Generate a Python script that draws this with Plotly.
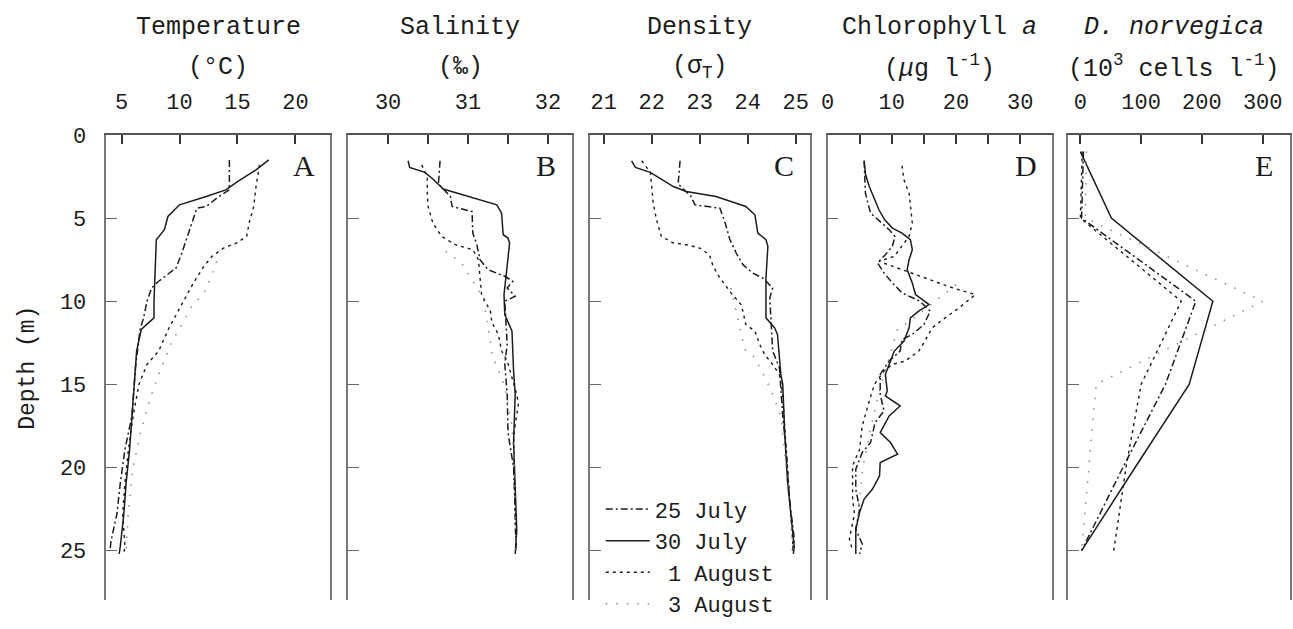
import plotly.graph_objects as go

# ---------------- DATA ----------------
SERIES = ["25 July", "30 July", "1 August", "3 August"]
LEGEND_LABELS = ["25 July", "30 July", "\u00a01 August", "\u00a03 August"]

# Panel A: Temperature (deg C)
T_D_25 = [1.5, 3.3, 3.7, 4.3, 4.4, 5.9, 7.1, 8.0, 8.8, 9.2, 10.0, 11.0, 11.7, 14.0, 16.9, 18.9, 20.9, 22.8, 24.4, 25.0]
T_25 = [14.3, 14.3, 13.4, 12.3, 11.5, 10.8, 10.2, 9.7, 8.2, 7.6, 7.2, 6.9, 6.6, 6.2, 5.9, 5.3, 4.9, 4.6, 4.1, 4.0]
T_D_30 = [1.5, 2.1, 2.8, 3.3, 3.7, 4.2, 4.9, 5.7, 6.3, 8.0, 10.0, 11.0, 11.7, 13.0, 15.7, 18.9, 20.9, 22.8, 24.7, 25.2]
T_30 = [17.7, 16.6, 15.0, 14.0, 12.3, 10.0, 9.0, 8.7, 8.0, 7.9, 7.8, 7.8, 6.7, 6.3, 6.0, 5.7, 5.4, 5.2, 4.9, 4.8]
T_D_1A = [1.8, 3.1, 4.3, 5.3, 6.1, 6.5, 6.8, 7.3, 7.9, 8.9, 9.8, 10.6, 11.6, 13.0, 13.8, 15.0, 16.9, 18.9, 20.9, 22.8, 24.8, 25.1]
T_1A = [16.9, 16.6, 16.4, 16.0, 15.8, 14.9, 13.8, 12.8, 12.1, 11.2, 10.5, 9.9, 9.1, 8.2, 7.2, 6.5, 6.0, 5.6, 5.3, 5.1, 5.3, 5.2]
T_D_3A = [7.6, 9.3, 10.4, 12.5, 14.4, 16.0, 18.0, 20.0, 22.5, 25.0]
T_3A = [13.2, 12.3, 11.0, 9.3, 8.2, 7.4, 6.6, 6.0, 5.6, 5.4]

# Panel B: Salinity (per mille)
S_D_25 = [1.55, 2.95, 3.7, 4.3, 4.6, 5.9, 6.6, 7.5, 8.1, 8.5, 8.8, 9.2, 9.7, 10.0, 12.6, 13.8, 15.6, 17.9, 20.0, 22.5, 25.0]
S_25 = [30.65, 30.63, 30.78, 30.80, 31.05, 31.06, 31.11, 31.15, 31.25, 31.46, 31.56, 31.49, 31.59, 31.46, 31.49, 31.46, 31.49, 31.50, 31.57, 31.59, 31.60]
S_D_30 = [1.55, 1.95, 2.25, 2.65, 3.25, 3.7, 4.2, 4.7, 6.0, 6.2, 6.5, 8.3, 9.6, 10.8, 11.8, 14.2, 15.6, 18.5, 20.9, 23.8, 25.2]
S_30 = [30.25, 30.27, 30.46, 30.56, 30.69, 31.02, 31.36, 31.42, 31.44, 31.50, 31.52, 31.48, 31.45, 31.46, 31.55, 31.57, 31.59, 31.57, 31.59, 31.61, 31.59]
S_D_1A = [1.8, 2.5, 3.5, 4.3, 5.3, 6.1, 6.6, 6.9, 7.5, 8.5, 9.6, 10.6, 11.3, 12.0, 13.0, 13.6, 14.6, 15.6, 16.2, 18.1, 20.5, 25.0]
S_1A = [30.42, 30.49, 30.49, 30.50, 30.56, 30.67, 30.84, 31.06, 31.13, 31.15, 31.17, 31.28, 31.30, 31.38, 31.42, 31.49, 31.55, 31.61, 31.63, 31.57, 31.58, 31.60]
S_D_3A = [7.0, 7.7, 9.8, 11.5, 13.2, 15.0, 17.5, 20.0, 25.0]
S_3A = [30.72, 30.92, 31.19, 31.25, 31.30, 31.45, 31.55, 31.58, 31.60]

# Panel C: Density (sigma-T)
C_D_25 = [1.55, 2.95, 3.25, 3.7, 4.2, 4.4, 5.3, 6.3, 7.1, 7.8, 8.3, 8.6, 9.2, 9.8, 13.0, 14.0, 16.9, 18.9, 21.9, 24.3, 25.0]
C_25 = [22.59, 22.55, 22.66, 22.82, 22.90, 23.42, 23.53, 23.63, 23.76, 23.90, 24.10, 24.31, 24.52, 24.46, 24.52, 24.66, 24.73, 24.80, 24.87, 24.97, 24.93]
C_D_30 = [1.55, 1.95, 2.25, 2.65, 3.1, 3.4, 3.7, 4.3, 4.8, 5.9, 6.3, 6.7, 8.6, 11.0, 11.6, 12.0, 14.4, 15.0, 17.9, 20.9, 22.8, 24.8, 25.2]
C_30 = [21.58, 21.66, 21.97, 22.20, 22.45, 22.72, 23.34, 23.96, 24.15, 24.21, 24.38, 24.42, 24.38, 24.38, 24.56, 24.62, 24.69, 24.73, 24.77, 24.83, 24.90, 24.97, 24.95]
C_D_1A = [1.55, 2.25, 3.1, 4.1, 5.1, 6.1, 6.5, 6.6, 6.8, 7.2, 7.9, 8.6, 9.5, 10.2, 10.6, 11.4, 11.8, 12.6, 13.2, 13.8, 14.4, 15.6, 18.0, 21.0, 25.0]
C_1A = [21.79, 21.97, 22.00, 22.03, 22.10, 22.20, 22.45, 22.72, 23.00, 23.20, 23.28, 23.42, 23.65, 23.86, 23.90, 23.96, 24.15, 24.25, 24.35, 24.52, 24.66, 24.73, 24.78, 24.85, 24.95]
C_D_3A = [9.2, 10.5, 12.9, 13.4, 15.3, 17.0, 20.0, 25.0]
C_3A = [23.65, 23.75, 23.94, 24.15, 24.48, 24.70, 24.80, 24.95]

# Panel D: Chlorophyll a (ug/l)
D_D_25 = [1.55, 3.5, 4.7, 5.7, 6.1, 6.7, 7.2, 7.7, 8.3, 8.9, 9.5, 10.0, 10.6, 11.4, 12.0, 12.3, 13.0, 13.6, 14.4, 15.6, 16.6, 17.3, 18.5, 19.1, 20.1, 21.3, 22.5, 23.7, 24.6, 25.2]
D_25 = [5.7, 5.9, 6.7, 9.6, 10.5, 10.1, 9.0, 7.8, 8.8, 10.1, 11.6, 14.4, 16.0, 15.0, 13.2, 11.6, 11.3, 9.6, 8.2, 8.2, 8.8, 7.4, 6.7, 5.4, 4.4, 4.4, 5.0, 4.4, 5.4, 5.0]
D_D_30 = [1.55, 2.35, 3.1, 3.9, 4.5, 5.1, 5.6, 5.9, 6.3, 6.9, 7.5, 8.1, 8.9, 9.6, 10.2, 10.6, 11.0, 11.6, 12.4, 13.0, 13.8, 14.4, 15.4, 15.7, 16.3, 16.9, 17.9, 18.5, 19.2, 19.7, 20.5, 21.3, 21.9, 22.7, 23.7, 24.4, 25.2]
D_30 = [5.7, 5.9, 6.5, 7.3, 8.0, 8.9, 10.1, 11.6, 12.9, 13.2, 12.7, 12.4, 13.2, 13.7, 15.8, 14.2, 12.9, 12.7, 11.9, 10.4, 9.6, 9.0, 9.3, 9.0, 11.3, 9.6, 8.2, 9.8, 10.9, 8.2, 8.1, 7.0, 5.7, 5.0, 4.4, 4.4, 4.4]
D_D_1A = [1.85, 2.7, 3.5, 4.3, 5.3, 6.1, 6.7, 7.3, 7.6, 8.1, 8.7, 9.2, 9.6, 10.4, 11.0, 11.6, 12.5, 13.0, 13.6, 13.8, 14.2, 15.0, 16.0, 16.9, 17.5, 18.9, 19.9, 20.9, 21.9, 22.8, 24.3, 25.0]
D_1A = [11.6, 11.9, 12.7, 12.9, 13.2, 12.7, 11.6, 10.4, 8.0, 11.5, 16.0, 19.5, 23.0, 20.5, 18.3, 16.3, 15.0, 14.2, 12.1, 10.1, 8.8, 7.3, 6.5, 5.9, 5.4, 5.0, 3.9, 3.9, 3.9, 4.2, 3.4, 3.9]
D_D_3A = [9.0, 9.8, 11.1, 11.7, 13.5, 15.5, 17.5, 20.0, 22.5, 25.0]
D_3A = [20.0, 17.4, 13.2, 10.9, 9.5, 8.0, 6.8, 5.5, 4.8, 4.5]

# Panel E: D. norvegica (10^3 cells/l), discrete bottle depths
E_DEPTH = [1, 5, 10, 15, 20, 25]
E_25 = [5, 2, 190, 140, 70, 2]
E_30 = [0, 51, 218, 179, 90, 2]
E_1A = [3, 0, 166, 100, 75, 55]
E_3A = [10, 8, 300, 26, 14, 2]

# Tick values (major = labelled, minor = unlabelled)
Y_TICKS = [0, 5, 10, 15, 20, 25]
A_TICKS = [5, 10, 15, 20]
B_TICKS = [30, 31, 32]
B_MINOR = [30.5, 31.5]
C_TICKS = [21, 22, 23, 24, 25]
D_TICKS = [0, 10, 20, 30]
D_MINOR = [5, 15, 25]
E_TICKS = [0, 100, 200, 300]

TITLES = [
    ("Temperature", "(°C)"),
    ("Salinity", "(‰)"),
    ("Density", "(σ<sub>T</sub>)"),
    ("Chlorophyll <i>a</i>", "(<i>μ</i>g l<sup>-1</sup>)"),
    ("<i>D. norvegica</i>", "(10<sup>3</sup> cells l<sup>-1</sup>)"),
]
LETTERS = ["A", "B", "C", "D", "E"]

# ---------------- LAYOUT HELPERS ----------------
W, H = 1293, 629
FONT = "Liberation Mono"
INK = "#1c1c1c"


def fx(x):
    return x / W


def fy(y):
    return 1 - y / H


panel_px = [(100, 325), (343, 568), (586, 807), (825, 1051), (1067, 1290)]
panel_rng = [[3.7, 23.0], [29.5, 32.3], [20.71, 25.29], [0, 35], [-20, 345]]
panel_ticks = [
    (A_TICKS, []),
    (B_TICKS, B_MINOR),
    (C_TICKS, []),
    (D_TICKS, D_MINOR),
    (E_TICKS, []),
]
Y_TOP, Y_BOT = 127, 600

styles = {
    "25 July": dict(color=INK, width=1.5, dash="7px,3px,2px,3px"),
    "30 July": dict(color=INK, width=1.5, dash="solid"),
    "1 August": dict(color=INK, width=1.4, dash="3px,4px"),
    "3 August": dict(color="#8a8a8a", width=1.5, dash="1.5px,9px"),
}

panel_data = [
    [(T_25, T_D_25), (T_30, T_D_30), (T_1A, T_D_1A), (T_3A, T_D_3A)],
    [(S_25, S_D_25), (S_30, S_D_30), (S_1A, S_D_1A), (S_3A, S_D_3A)],
    [(C_25, C_D_25), (C_30, C_D_30), (C_1A, C_D_1A), (C_3A, C_D_3A)],
    [(D_25, D_D_25), (D_30, D_D_30), (D_1A, D_D_1A), (D_3A, D_D_3A)],
    [(E_25, E_DEPTH), (E_30, E_DEPTH), (E_1A, E_DEPTH), (E_3A, E_DEPTH)],
]

fig = go.Figure()

for i, series in enumerate(panel_data):
    ax = "" if i == 0 else str(i + 1)
    for name, label, (xs, ds) in zip(SERIES, LEGEND_LABELS, series):
        fig.add_trace(go.Scatter(
            x=xs, y=ds, mode="lines", name=label,
            line=styles[name], legendgroup=name, showlegend=(i == 2),
            xaxis="x" + ax, yaxis="y" + ax, hoverinfo="skip",
        ))

layout = dict(
    width=W, height=H, margin=dict(l=0, r=0, t=0, b=0),
    paper_bgcolor="white", plot_bgcolor="white",
    font=dict(family=FONT, color=INK, size=22),
    legend=dict(
        x=fx(597), y=fy(486), xanchor="left", yanchor="top",
        bgcolor="rgba(0,0,0,0)", font=dict(family=FONT, size=22, color=INK),
        itemwidth=44, tracegroupgap=0,
    ),
    annotations=[], shapes=[],
)

for i in range(5):
    ax = "" if i == 0 else str(i + 1)
    x0, x1 = panel_px[i]
    tv, minor_tv = panel_ticks[i]
    xa = dict(
        domain=[fx(x0), fx(x1)], range=panel_rng[i], side="top",
        anchor="y" + ax, showgrid=False, zeroline=False,
        showline=True, linecolor="#555", linewidth=1.5, mirror=False,
        ticks="inside", ticklen=9, tickwidth=1.5, tickcolor="#333",
        tickvals=tv, ticklabelstandoff=15,
        tickfont=dict(family=FONT, size=22, color=INK),
    )
    if minor_tv:
        xa["minor"] = dict(tickvals=minor_tv, ticks="inside", ticklen=9,
                           tickwidth=1.5, tickcolor="#333", showgrid=False)
    layout["xaxis" + ax] = xa
    layout["yaxis" + ax] = dict(
        domain=[fy(Y_BOT), fy(Y_TOP)], range=[28, 0],
        anchor="x" + ax, showgrid=False, zeroline=False,
        showline=True, linecolor="#777", linewidth=1.5, mirror=True,
        ticks="inside", ticklen=11, tickwidth=1.2, tickcolor="#666",
        tickvals=Y_TICKS, showticklabels=(i == 0),
        ticklabelstandoff=14,
        tickfont=dict(family=FONT, size=22, color=INK),
    )
    cx = (x0 + x1) / 2 + (0 if i != 4 else -5)
    t1, t2 = TITLES[i]
    layout["annotations"].append(dict(
        text=t1, x=fx(cx), y=fy(18), xref="paper", yref="paper",
        showarrow=False, font=dict(family=FONT, size=25, color=INK),
        xanchor="center", yanchor="middle"))
    layout["annotations"].append(dict(
        text=t2, x=fx(cx), y=fy(58), xref="paper", yref="paper",
        showarrow=False, font=dict(family=FONT, size=25, color=INK),
        xanchor="center", yanchor="middle"))
    layout["annotations"].append(dict(
        text=LETTERS[i], x=fx(x1 - 26), y=fy(158), xref="paper", yref="paper",
        showarrow=False, font=dict(family="Liberation Serif", size=30, color=INK),
        xanchor="center", yanchor="middle"))

layout["yaxis"]["title"] = dict(text="Depth (m)", standoff=19,
                                font=dict(family=FONT, size=23, color=INK))

fig.update_layout(**layout)
fig.write_html("out.html")
